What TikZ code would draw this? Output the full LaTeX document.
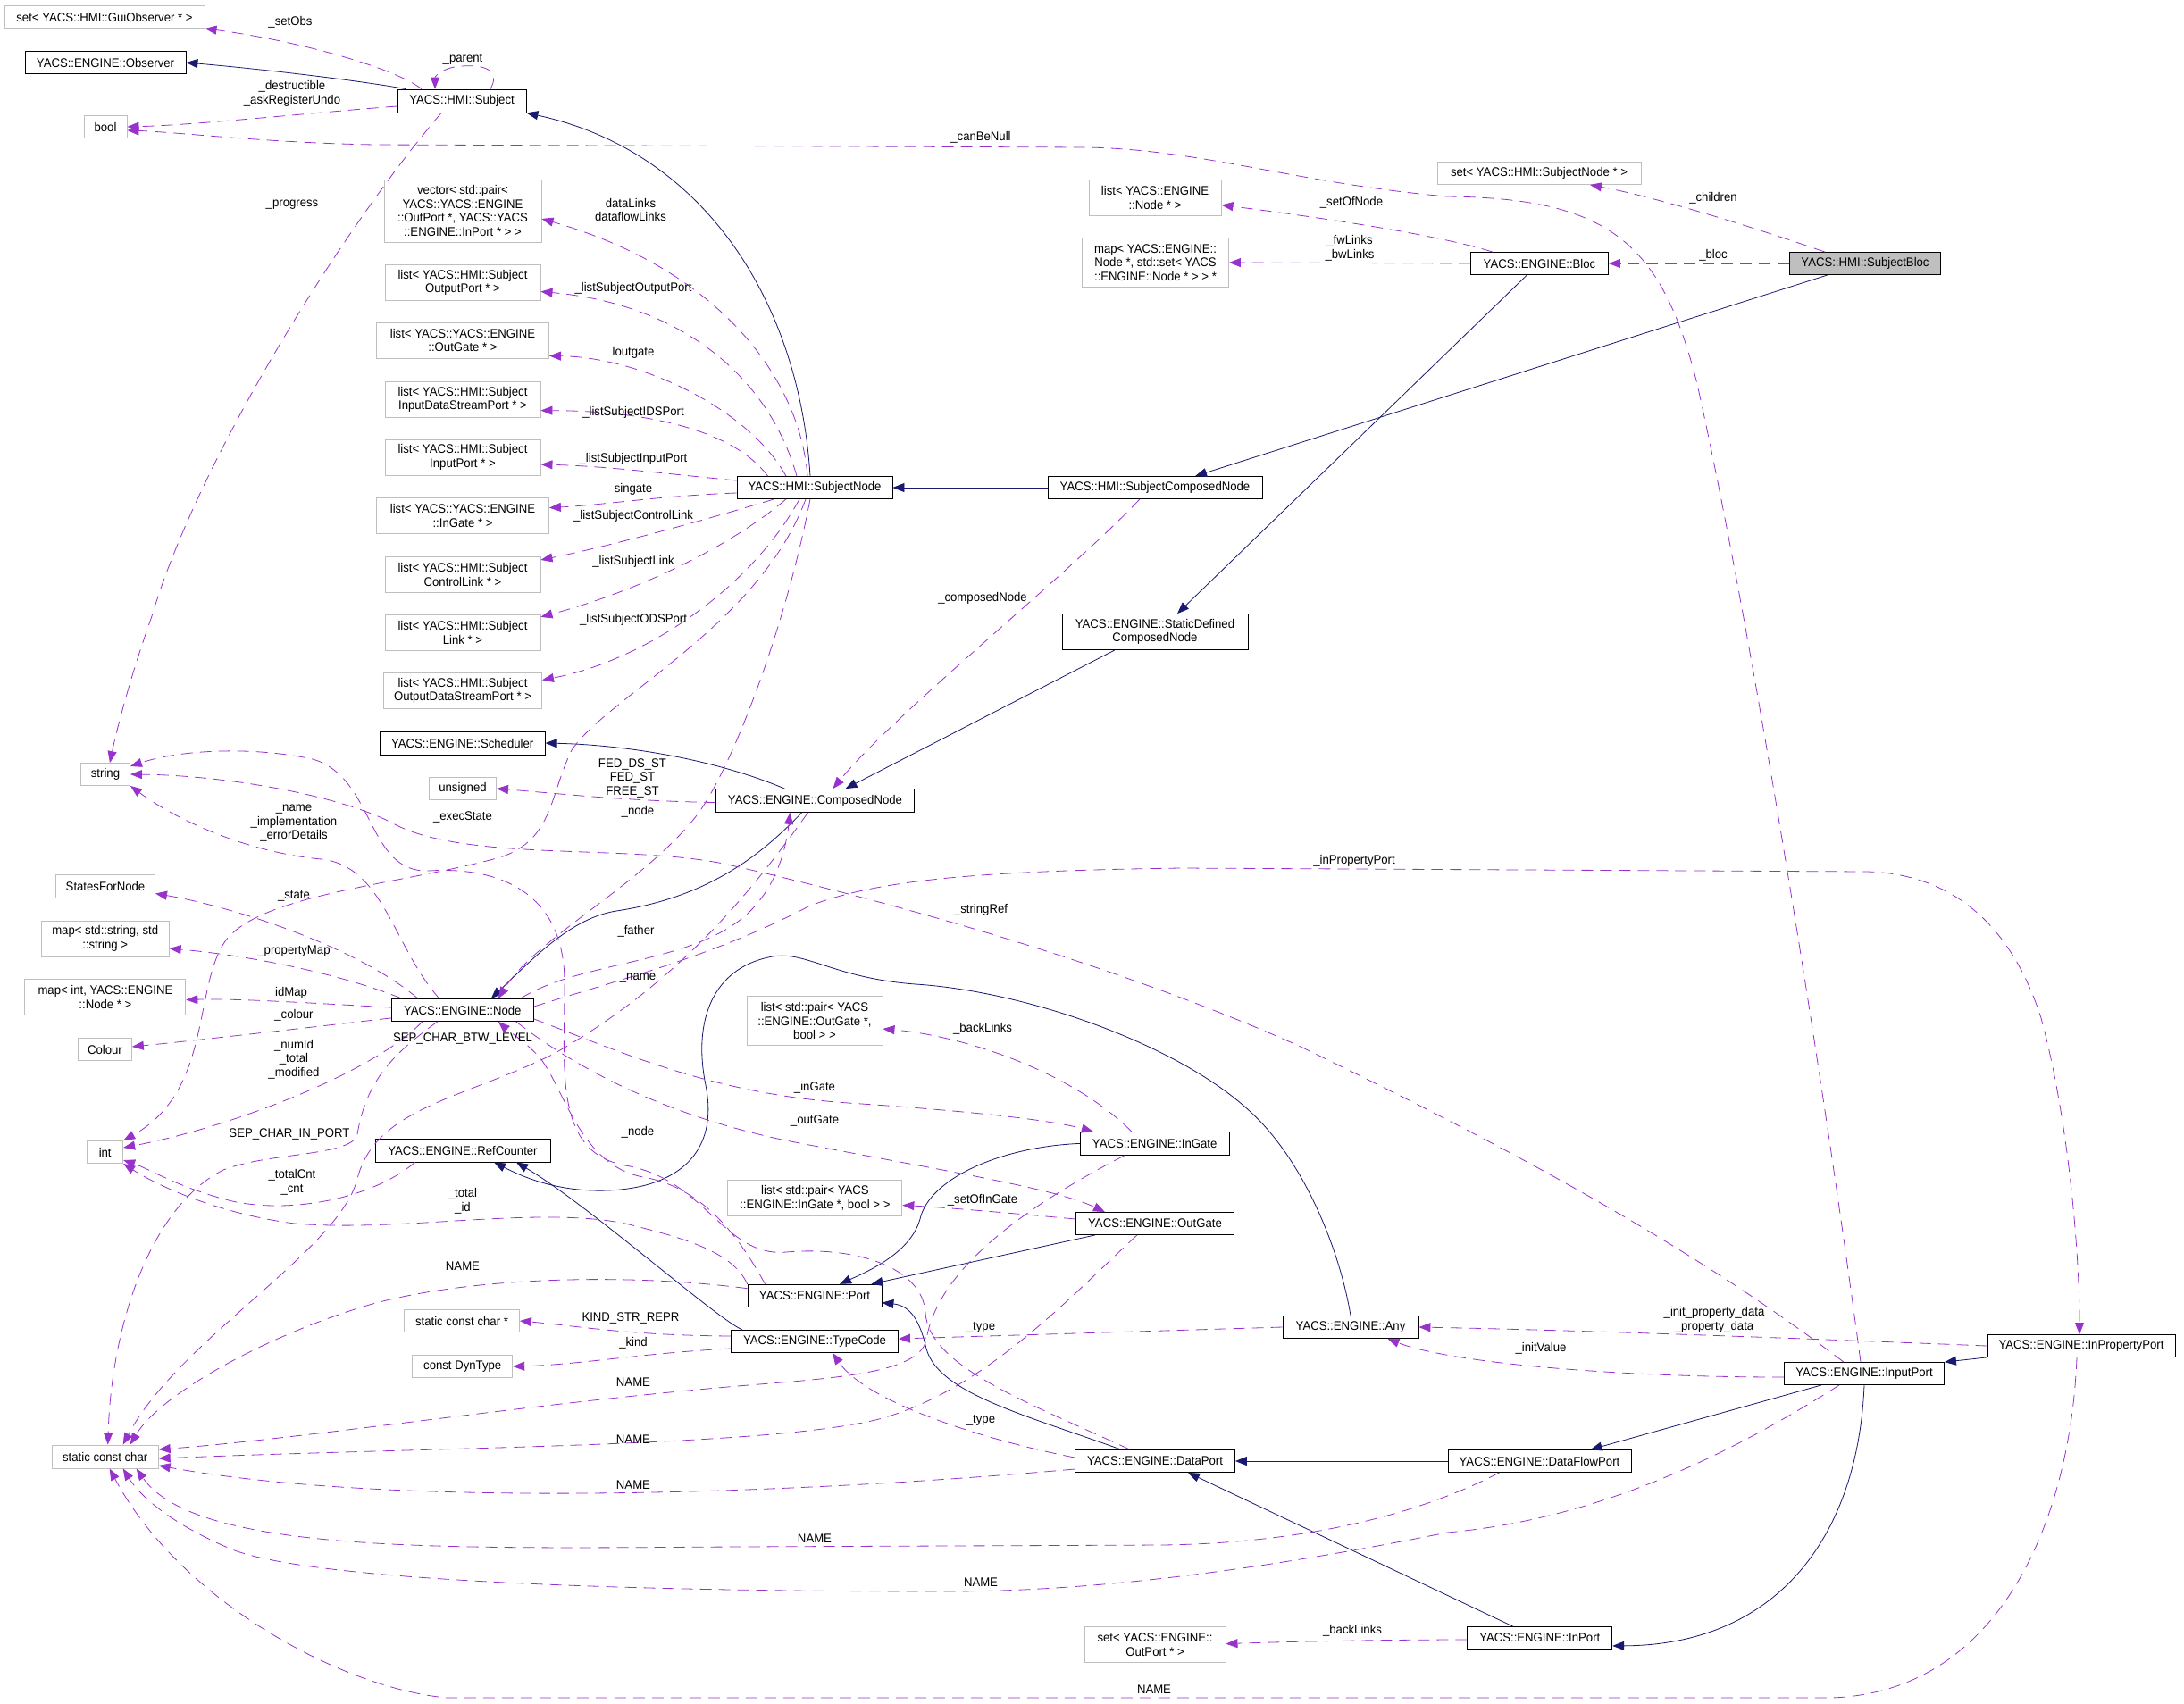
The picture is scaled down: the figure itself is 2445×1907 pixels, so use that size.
\documentclass[tikz,border=0pt]{standalone}
\usepackage{fontspec}
\setmainfont{Liberation Sans}[FakeStretch=0.94]
\usetikzlibrary{arrows.meta,calc}
\definecolor{navy}{RGB}{25,25,112}
\definecolor{purp}{RGB}{153,50,204}
\definecolor{lgray}{RGB}{191,191,191}
\begin{document}
\begin{tikzpicture}[x=1pt,y=-1pt, font=\fontsize{14}{15.5}\selectfont,
 cls/.style={draw=black, line width=0.8pt, fill=white, align=center, inner sep=2pt},
 ext/.style={draw=lgray, line width=0.9pt, fill=white, align=center, inner sep=2pt},
 inh/.style={color=navy, line width=0.8pt, -{Triangle[length=13pt,width=10pt]}},
 use/.style={color=purp, line width=0.8pt, dash pattern=on 13pt off 8pt, -{Triangle[length=13pt,width=10pt]}},
 lab/.style={inner sep=0pt, align=center, text=black}]
\useasboundingbox (0,0) rectangle (2445,1907);
\fill[white] (0,0) rectangle (2445,1907);
% ---------------- nodes
\node[ext, minimum width=224, minimum height=25] (gobs) at (117,19) {set< YACS::HMI::GuiObserver * >};
\node[cls, minimum width=180, minimum height=25] (obs) at (118,70) {YACS::ENGINE::Observer};
\node[cls, minimum width=144, minimum height=26] (subj) at (517,113) {YACS::HMI::Subject};
\node[ext, minimum width=48, minimum height=25] (bool) at (118,142) {bool};
\node[ext, minimum width=176, minimum height=70] (vec) at (518,236) {vector< std::pair<\\YACS::YACS::ENGINE\\::OutPort *, YACS::YACS\\::ENGINE::InPort * > >};
\node[ext, minimum width=174, minimum height=40] (lop) at (518,316.5) {list< YACS::HMI::Subject\\OutputPort * >};
\node[ext, minimum width=193, minimum height=40] (log) at (518,381) {list< YACS::YACS::ENGINE\\::OutGate * >};
\node[ext, minimum width=174, minimum height=40] (lids) at (518,447.6) {list< YACS::HMI::Subject\\InputDataStreamPort * >};
\node[ext, minimum width=174, minimum height=40] (lip) at (518,512) {list< YACS::HMI::Subject\\InputPort * >};
\node[ext, minimum width=193, minimum height=40] (lig) at (518,577.6) {list< YACS::YACS::ENGINE\\::InGate * >};
\node[ext, minimum width=174, minimum height=40] (lcl) at (518,643.4) {list< YACS::HMI::Subject\\ControlLink * >};
\node[ext, minimum width=174, minimum height=40] (lsl) at (518,708.3) {list< YACS::HMI::Subject\\Link * >};
\node[ext, minimum width=177, minimum height=40] (lods) at (518,773.4) {list< YACS::HMI::Subject\\OutputDataStreamPort * >};
\node[cls, minimum width=185, minimum height=26] (sched) at (517.7,832) {YACS::ENGINE::Scheduler};
\node[ext, minimum width=75, minimum height=25] (uns) at (518,883) {unsigned};
\node[ext, minimum width=55, minimum height=25] (str) at (118,867) {string};
\node[ext, minimum width=111, minimum height=26] (sfn) at (118,992.5) {StatesForNode};
\node[ext, minimum width=143, minimum height=40] (mss) at (117.7,1051) {map< std::string, std\\::string >};
\node[ext, minimum width=180, minimum height=40] (mint) at (117.9,1116.5) {map< int, YACS::ENGINE\\::Node * >};
\node[ext, minimum width=60, minimum height=25] (col) at (117.4,1175) {Colour};
\node[cls, minimum width=159, minimum height=25] (nnode) at (517.8,1131) {YACS::ENGINE::Node};
\node[ext, minimum width=40, minimum height=25] (int) at (117.7,1290) {int};
\node[cls, minimum width=196, minimum height=26] (refc) at (518,1288) {YACS::ENGINE::RefCounter};
\node[ext, minimum width=119, minimum height=26] (scc) at (117.7,1631) {static const char};
\node[ext, minimum width=129, minimum height=25] (sccp) at (517,1479) {static const char *};
\node[ext, minimum width=112, minimum height=25] (dyn) at (517.7,1530) {const DynType};
\node[cls, minimum width=222, minimum height=26] (cnode) at (912.5,896.5) {YACS::ENGINE::ComposedNode};
\node[cls, minimum width=208, minimum height=40] (sdcn) at (1293,707.5) {YACS::ENGINE::StaticDefined\\ComposedNode};
\node[ext, minimum width=152, minimum height=55] (lpog) at (912,1143) {list< std::pair< YACS\\::ENGINE::OutGate *,\\bool > >};
\node[ext, minimum width=148, minimum height=40] (lnode) at (1293,221.5) {list< YACS::ENGINE\\::Node * >};
\node[ext, minimum width=164, minimum height=55] (mnode) at (1293.5,294) {map< YACS::ENGINE::\\Node *, std::set< YACS\\::ENGINE::Node * > > *};
\node[cls, minimum width=174, minimum height=25] (snode) at (912,546) {YACS::HMI::SubjectNode};
\node[cls, minimum width=240, minimum height=25] (scn) at (1293,546) {YACS::HMI::SubjectComposedNode};
\node[ext, minimum width=228, minimum height=25] (ssn) at (1723,194) {set< YACS::HMI::SubjectNode * >};
\node[cls, minimum width=154, minimum height=25] (bloc) at (1723.5,295) {YACS::ENGINE::Bloc};
\node[cls, fill=lgray, minimum width=169, minimum height=25] (sbloc) at (2088,295) {YACS::HMI::SubjectBloc};
\node[cls, minimum width=167, minimum height=26] (ingate) at (1292.7,1280.4) {YACS::ENGINE::InGate};
\node[cls, minimum width=177, minimum height=25] (outgate) at (1293,1370) {YACS::ENGINE::OutGate};
\node[ext, minimum width=195, minimum height=40] (lpig) at (912.4,1341.5) {list< std::pair< YACS\\::ENGINE::InGate *, bool > >};
\node[cls, minimum width=150, minimum height=25] (port) at (912,1450.7) {YACS::ENGINE::Port};
\node[cls, minimum width=187, minimum height=25] (tc) at (912,1502) {YACS::ENGINE::TypeCode};
\node[cls, minimum width=152, minimum height=25] (any) at (1512,1486) {YACS::ENGINE::Any};
\node[cls, minimum width=179, minimum height=25] (dport) at (1293,1636) {YACS::ENGINE::DataPort};
\node[ext, minimum width=158, minimum height=40] (sop) at (1293,1841.6) {set< YACS::ENGINE::\\OutPort * >};
\node[cls, minimum width=210, minimum height=25] (ipp) at (2330,1507) {YACS::ENGINE::InPropertyPort};
\node[cls, minimum width=179, minimum height=25] (inp) at (2087,1538) {YACS::ENGINE::InputPort};
\node[cls, minimum width=205, minimum height=25] (dfp) at (1723.5,1636) {YACS::ENGINE::DataFlowPort};
\node[cls, minimum width=162, minimum height=25] (inport) at (1723.8,1834) {YACS::ENGINE::InPort};
% ---------------- inheritance
\draw[inh] ($(subj.north west)+(10,0)$) .. controls (400,90) and (300,78) .. (obs.east);
\draw[inh] ($(snode.north)+(-5,0)$) .. controls (895,340) and (790,170) .. (subj.south east);
\draw[inh] (scn.west) -- (snode.east);
\draw[inh] ($(sbloc.south)+(-42,0)$) -- ($(scn.north)+(45,0)$);
\draw[inh] ($(bloc.south)+(-14,0)$) -- ($(sdcn.north)+(25,0)$);
\draw[inh] ($(sdcn.south)+(-45,0)$) -- ($(cnode.north)+(34,0)$);
\draw[inh] ($(cnode.north)+(-34,0)$) .. controls (800,850) and (700,834) .. (sched.east);
\draw[inh] ($(cnode.south)+(-15,0)$) .. controls (850,960) and (790,1005) .. (690,1020) .. controls (640,1028) and (600,1070) .. ($(nnode.north)+(32,0)$);
\draw[inh] (ingate.west) .. controls (1120,1284) and (1040,1320) .. (1030,1365) .. controls (1020,1400) and (980,1420) .. ($(port.north)+(28,0)$);
\draw[inh] ($(outgate.south west)+(22,0)$) -- ($(port.north east)+(-12,0)$);
\draw[inh] ($(dport.north)+(-38,0)$) .. controls (1150,1585) and (1050,1560) .. (1037,1510) .. controls (1030,1480) and (1020,1462) .. ($(port.south east)+(0,-5)$);
\draw[inh] (any.north) .. controls (1500,1400) and (1460,1300) .. (1400,1245) .. controls (1320,1170) and (1150,1110) .. (1025,1102) .. controls (930,1095) and (900,1062) .. (860,1072) .. controls (800,1085) and (775,1140) .. (790,1215) .. controls (805,1290) and (760,1330) .. (680,1333) .. controls (620,1335) and (580,1315) .. ($(refc.south)+(35,0)$);
\draw[inh] ($(tc.north west)+(13,0)$) .. controls (800,1475) and (660,1350) .. ($(refc.south)+(60,0)$);
\draw[inh] (dfp.west) -- (dport.east);
\draw[inh] ($(inport.north)+(-30,0)$) -- ($(dport.south)+(37,0)$);
\draw[inh] ($(inp.south west)+(42,0)$) -- ($(dfp.north)+(57,0)$);
\draw[inh] (inp.south) .. controls (2080,1720) and (1990,1842) .. ($(inport.south east)+(0,-4)$);
\draw[inh] (ipp.south west) -- (inp.north east);
% ---------------- usage
\draw[use] ($(subj.north)+(-45,0)$) .. controls (440,75) and (330,45) .. (gobs.south east);
\draw[use] ($(subj.north)+(32,0)$) .. controls (560,80) and (545,72) .. (517,74) .. controls (497,75) and (487,85) .. ($(subj.north)+(-30,0)$);
\draw[use] ($(subj.west)+(0,6)$) .. controls (350,126) and (220,140) .. (bool.east);
\draw[use] ($(subj.south)+(-23,0)$) .. controls (380,260) and (220,520) .. (170,690) .. controls (145,760) and (130,820) .. ($(str.north)+(5,0)$);
\draw[use] ($(snode.north)+(-8,0)$) .. controls (895,420) and (800,300) .. ($(vec.east)+(0,9)$);
\draw[use] ($(snode.north)+(-20,0)$) .. controls (860,420) and (760,340) .. ($(lop.east)+(0,10)$);
\draw[use] ($(snode.north)+(-32,0)$) .. controls (840,460) and (720,400) .. ($(log.south east)+(0,-3)$);
\draw[use] ($(snode.north west)+(35,0)$) .. controls (820,480) and (720,460) .. ($(lids.east)+(0,12)$);
\draw[use] ($(snode.west)+(0,-8)$) .. controls (740,530) and (680,522) .. ($(lip.east)+(0,8)$);
\draw[use] ($(snode.west)+(0,6)$) .. controls (740,555) and (680,565) .. ($(lig.east)+(0,-9)$);
\draw[use] ($(snode.south west)+(42,0)$) .. controls (780,585) and (680,612) .. ($(lcl.north east)+(0,4)$);
\draw[use] ($(snode.south)+(-32,0)$) .. controls (820,610) and (720,660) .. ($(lsl.north east)+(0,3)$);
\draw[use] ($(snode.south)+(-17,0)$) .. controls (840,660) and (720,740) .. ($(lods.east)+(0,-12)$);
\draw[use] ($(snode.south)+(-5,0)$) .. controls (880,700) and (820,860) .. (780,913) .. controls (720,990) and (600,1050) .. ($(nnode.north)+(40,0)$);
\draw[use] ($(snode.south)+(-10,0)$) .. controls (850,700) and (680,780) .. (640,840) .. controls (615,890) and (620,940) .. (560,960) .. controls (450,990) and (300,1000) .. (255,1050) .. controls (215,1100) and (240,1220) .. (int.north east);
\draw[use] ($(scn.south)+(-17,0)$) .. controls (1200,640) and (1000,800) .. ($(cnode.north)+(20,0)$);
\draw[use] ($(sbloc.north)+(-45,0)$) .. controls (1950,250) and (1850,220) .. ($(ssn.south)+(57,0)$);
\draw[use] (sbloc.west) -- (bloc.east);
\draw[use] ($(bloc.north west)+(25,0)$) .. controls (1600,260) and (1450,240) .. ($(lnode.east)+(0,8)$);
\draw[use] (bloc.west) -- (mnode.east);
\draw[use] ($(inp.north)+(-4,0)$) .. controls (2040,1200) and (1960,700) .. (1900,430) .. controls (1860,270) and (1800,222) .. (1620,220) .. controls (1450,205) and (1350,168) .. (1218,165) -- (420,162) .. controls (300,160) and (200,148) .. ($(bool.east)+(0,4)$);
\draw[use] ($(cnode.west)+(0,2)$) .. controls (700,897) and (620,888) .. (uns.east);
\draw[use] ($(nnode.north)+(-26,0)$) .. controls (440,1060) and (430,970) .. (360,962) .. controls (280,955) and (200,920) .. (str.south east);
\draw[use] ($(nnode.north)+(-50,0)$) .. controls (400,1060) and (260,1015) .. ($(sfn.east)+(0,8)$);
\draw[use] ($(nnode.north west)+(12,0)$) .. controls (380,1090) and (280,1070) .. ($(mss.east)+(0,11)$);
\draw[use] ($(nnode.west)+(0,-3)$) .. controls (330,1122) and (260,1118) .. ($(mint.east)+(0,3)$);
\draw[use] ($(nnode.south west)+(0,-4)$) .. controls (350,1150) and (220,1165) .. ($(col.east)+(0,-3)$);
\draw[use] ($(nnode.south)+(-45,0)$) .. controls (420,1200) and (260,1262) .. ($(int.east)+(0,-5)$);
\draw[use] ($(nnode.south)+(-28,0)$) .. controls (440,1180) and (410,1210) .. (400,1270) .. controls (395,1295) and (300,1290) .. (250,1310) .. controls (170,1350) and (125,1480) .. ($(scc.north)+(3,0)$);
\draw[use] ($(cnode.south)+(-8,0)$) .. controls (840,1000) and (760,1100) .. (620,1180) .. controls (520,1230) and (420,1240) .. (400,1320) .. controls (380,1400) and (200,1500) .. ($(scc.north)+(20,0)$);
\draw[use] ($(port.west)+(0,-8)$) .. controls (700,1425) and (520,1430) .. (410,1462) .. controls (300,1495) and (180,1560) .. ($(scc.north)+(28,0)$);
\draw[use] (port.north west) .. controls (820,1400) and (760,1385) .. (700,1370) .. controls (600,1350) and (450,1380) .. (330,1370) .. controls (250,1360) and (180,1330) .. (int.south east);
\draw[use] ($(refc.south west)+(45,0)$) .. controls (420,1340) and (330,1360) .. (260,1345) .. controls (200,1330) and (170,1310) .. ($(int.east)+(0,9)$);
\draw[use] ($(nnode.north east)+(-15,0)$) .. controls (650,1075) and (780,1080) .. (840,1020) .. controls (870,990) and (880,950) .. ($(cnode.south)+(-28,0)$);
\draw[use] ($(nnode.east)+(0,-4)$) .. controls (700,1095) and (800,1070) .. (905,1015) .. controls (980,985) and (1100,975) .. (1323,972) -- (2090,976) .. controls (2180,978) and (2250,1030) .. (2285,1140) .. controls (2315,1250) and (2328,1400) .. ($(ipp.north)+(-2,0)$);
\draw[use] ($(inp.north)+(-23,0)$) .. controls (1900,1400) and (1700,1290) .. (1454,1171) .. controls (1250,1080) and (1000,1010) .. (810,967) .. controls (700,945) and (520,965) .. (440,922) .. controls (380,890) and (250,868) .. (str.east);
\draw[use] ($(dport.north)+(-28,0)$) .. controls (1150,1570) and (1040,1530) .. (1036,1470) .. controls (1033,1420) and (960,1395) .. (880,1402) .. controls (810,1408) and (790,1320) .. (700,1305) .. controls (620,1290) and (632,1200) .. (632,1100) .. controls (632,1000) and (560,970) .. (480,975) .. controls (410,978) and (420,870) .. (350,850) .. controls (280,835) and (200,840) .. ($(str.east)+(0,-9)$);
\draw[use] ($(port.north west)+(20,0)$) .. controls (830,1390) and (790,1330) .. (720,1318) .. controls (650,1305) and (632,1220) .. (605,1185) .. controls (590,1168) and (570,1155) .. ($(nnode.south)+(40,0)$);
\draw[use] ($(nnode.south east)+(0,-3)$) .. controls (700,1180) and (800,1225) .. (950,1235) .. controls (1100,1245) and (1180,1255) .. ($(ingate.north west)+(15,0)$);
\draw[use] ($(nnode.south east)+(-20,0)$) .. controls (650,1200) and (750,1250) .. (880,1277) .. controls (1050,1310) and (1180,1330) .. ($(outgate.north)+(-56,0)$);
\draw[use] ($(ingate.north west)+(58,0)$) .. controls (1200,1200) and (1080,1160) .. ($(lpog.east)+(0,9)$);
\draw[use] ($(outgate.west)+(0,-5)$) .. controls (1150,1360) and (1060,1352) .. ($(lpig.east)+(0,8)$);
\draw[use] ($(ingate.south west)+(50,0)$) .. controls (1150,1350) and (1050,1420) .. (1037,1500) .. controls (1030,1535) and (950,1542) .. (850,1550) .. controls (600,1570) and (350,1610) .. ($(scc.east)+(0,-8)$);
\draw[use] ($(outgate.south)+(-20,0)$) .. controls (1200,1450) and (1100,1560) .. (980,1590) .. controls (850,1620) and (500,1620) .. ($(scc.east)+(0,2)$);
\draw[use] ($(dport.west)+(0,9)$) .. controls (900,1672) and (450,1690) .. ($(scc.east)+(0,10)$);
\draw[use] ($(dport.west)+(0,-4)$) .. controls (1100,1612) and (970,1570) .. ($(tc.south)+(20,0)$);
\draw[use] (any.west) -- ($(tc.east)+(0,-3)$);
\draw[use] ($(tc.west)+(0,-6)$) .. controls (700,1495) and (650,1485) .. (sccp.east);
\draw[use] ($(tc.west)+(0,8)$) .. controls (720,1515) and (650,1528) .. (dyn.east);
\draw[use] ($(dfp.south west)+(58,0)$) .. controls (1580,1700) and (1450,1728) .. (1300,1730) -- (820,1732) .. controls (500,1734) and (220,1740) .. ($(scc.south)+(35,0)$);
\draw[use] ($(inp.south west)+(62,0)$) .. controls (1950,1620) and (1800,1700) .. (1620,1716) .. controls (1450,1750) and (1250,1782) .. (1060,1782) .. controls (700,1782) and (350,1770) .. (260,1735) .. controls (200,1710) and (160,1680) .. ($(scc.south)+(20,0)$);
\draw[use] ($(ipp.south)+(-5,0)$) .. controls (2318,1700) and (2240,1895) .. (2050,1901) -- (500,1901) .. controls (380,1890) and (200,1790) .. ($(scc.south)+(5,0)$);
\draw[use] ($(inport.west)+(0,2)$) .. controls (1550,1836) and (1450,1838) .. ($(sop.east)+(0,-1)$);
\draw[use] (ipp.west) .. controls (2100,1502) and (1800,1490) .. (any.east);
\draw[use] ($(inp.west)+(0,4)$) .. controls (1800,1542) and (1620,1525) .. ($(any.south east)+(-35,0)$);
% ---------------- labels
\node[lab] (l1) at (325,25) {\_setObs};
\node[lab] (l2) at (518,66) {\_parent};
\node[lab] (l3) at (327,105) {\_destructible\\\_askRegisterUndo};
\node[lab] (l4) at (327,229) {\_progress};
\node[lab] (l5) at (1098,154) {\_canBeNull};
\node[lab] (l6) at (1918,222) {\_children};
\node[lab] (l7) at (1918,286) {\_bloc};
\node[lab] (l8) at (1513,227) {\_setOfNode};
\node[lab] (l9) at (1511,278) {\_fwLinks\\\_bwLinks};
\node[lab] (l10) at (706,235) {dataLinks\\dataflowLinks};
\node[lab] (l11) at (709,323) {\_listSubjectOutputPort};
\node[lab] (l12) at (709,395) {loutgate};
\node[lab] (l13) at (709,462) {\_listSubjectIDSPort};
\node[lab] (l14) at (709,514) {\_listSubjectInputPort};
\node[lab] (l15) at (709,548) {singate};
\node[lab] (l16) at (709,578) {\_listSubjectControlLink};
\node[lab] (l17) at (709,629) {\_listSubjectLink};
\node[lab] (l18) at (709,694) {\_listSubjectODSPort};
\node[lab] (l19) at (1100,670) {\_composedNode};
\node[lab] (l20) at (708,871) {FED\_DS\_ST\\FED\_ST\\FREE\_ST};
\node[lab] (l21) at (714,909) {\_node};
\node[lab] (l22) at (518,915) {\_execState};
\node[lab] (l23) at (329,922) {\_name\\\_implementation\\\_errorDetails};
\node[lab] (l24) at (329,1003) {\_state};
\node[lab] (l25) at (329,1065) {\_propertyMap};
\node[lab] (l26) at (326,1112) {idMap};
\node[lab] (l27) at (329,1137) {\_colour};
\node[lab] (l28) at (329,1186) {\_numId\\\_total\\\_modified};
\node[lab] (l29) at (518,1163) {SEP\_CHAR\_BTW\_LEVEL};
\node[lab] (l30) at (324,1270) {SEP\_CHAR\_IN\_PORT};
\node[lab] (l31) at (712,1043) {\_father};
\node[lab] (l32) at (714,1095) {\_name};
\node[lab] (l33) at (1516,964) {\_inPropertyPort};
\node[lab] (l34) at (1098,1019) {\_stringRef};
\node[lab] (l35) at (1100,1152) {\_backLinks};
\node[lab] (l36) at (912,1218) {\_inGate};
\node[lab] (l37) at (912,1255) {\_outGate};
\node[lab] (l38) at (1100,1344) {\_setOfInGate};
\node[lab] (l39) at (714,1268) {\_node};
\node[lab] (l40) at (327,1324) {\_totalCnt\\\_cnt};
\node[lab] (l41) at (518,1345) {\_total\\\_id};
\node[lab] (l42) at (518,1418) {NAME};
\node[lab] (l43) at (706,1476) {KIND\_STR\_REPR};
\node[lab] (l44) at (709,1504) {\_kind};
\node[lab] (l45) at (709,1548) {NAME};
\node[lab] (l46) at (709,1612) {NAME};
\node[lab] (l47) at (709,1663) {NAME};
\node[lab] (l48) at (1098,1486) {\_type};
\node[lab] (l49) at (1098,1590) {\_type};
\node[lab] (l50) at (912,1723) {NAME};
\node[lab] (l51) at (1098,1772) {NAME};
\node[lab] (l52) at (1292,1892) {NAME};
\node[lab] (l53) at (1514,1826) {\_backLinks};
\node[lab] (l54) at (1919,1478) {\_init\_property\_data\\\_property\_data};
\node[lab] (l55) at (1725,1510) {\_initValue};
\end{tikzpicture}
\end{document}
